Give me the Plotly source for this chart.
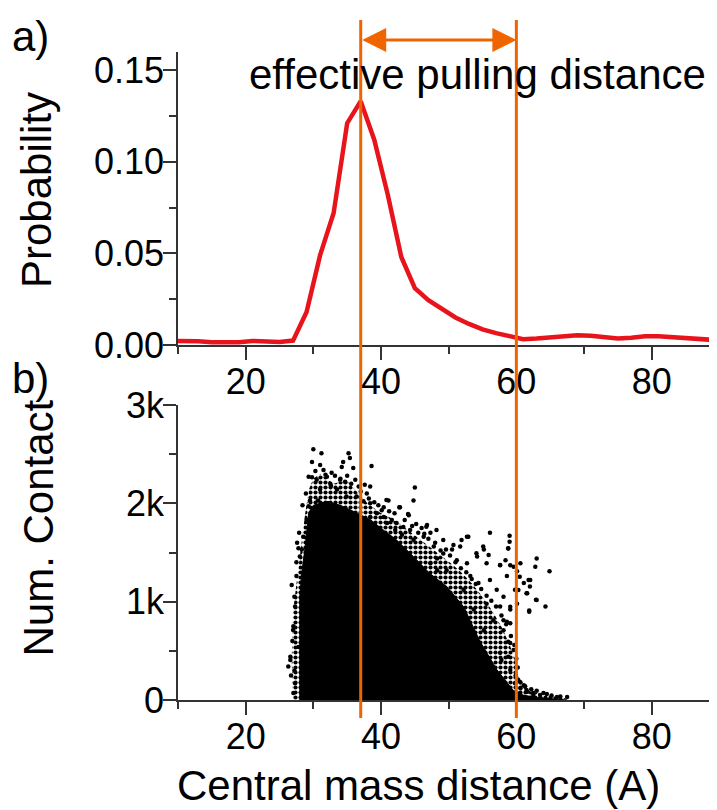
import plotly.graph_objects as go

# a) probability distribution of the central mass distance
dist = [9, 11, 13, 15, 17, 19, 21, 23, 25, 27, 29, 31, 33, 35, 37, 39, 41, 43, 45, 47, 49,
        51, 53, 55, 57, 59, 61, 63, 65, 67, 69, 71, 73, 75, 77, 79, 81, 83, 85, 87, 89, 91]
prob = [0.0022, 0.0022, 0.0020, 0.0015, 0.0012, 0.0015, 0.0022, 0.0022, 0.0016, 0.0024,
        0.018, 0.049, 0.072, 0.121, 0.133, 0.112, 0.082, 0.048, 0.031, 0.0245, 0.020,
        0.015, 0.0115, 0.0085, 0.0065, 0.005, 0.0032, 0.0035, 0.004, 0.005, 0.0053,
        0.005, 0.0045, 0.0035, 0.004, 0.0048, 0.0048, 0.0042, 0.0035, 0.003, 0.0028, 0.0028]

# b) number of contacts
# outline of the loosely populated part of the cloud
halo_x = [27.0, 26.8, 27.0, 27.6, 28.2, 28.8, 29.4, 30.0, 31.0, 32.0, 33.0, 34.0, 35.0,
          36.0, 37.0, 38.0, 39.0, 40.0, 41.5, 43.0, 44.5, 46.0, 47.5, 49.0, 50.5, 52.0,
          53.5, 55.0, 56.5, 58.0, 59.5, 60.3, 61.0, 62.0, 63.5, 65.0, 67.0, 68.0]
halo_y = [0, 400, 900, 1250, 1600, 1900, 2150, 2250, 2300, 2250, 2200, 2220, 2230,
          2150, 2080, 2000, 1950, 1900, 1850, 1780, 1700, 1620, 1540, 1460, 1380, 1290,
          1180, 1050, 900, 720, 480, 250, 130, 90, 60, 40, 20, 0]

# outline of the solid core of the cloud
core_x = [28.0, 28.0, 28.3, 28.8, 29.3, 30.0, 32.0, 34.0, 36.5, 38.5, 40.5, 42.3, 44.8,
          47.2, 49.7, 52.2, 54.6, 57.1, 59.5, 61.0, 63.0, 66.0, 67.5]
core_y = [0, 1050, 1300, 1560, 1900, 1980, 2020, 1980, 1900, 1830, 1720, 1627, 1458,
          1288, 1153, 950, 600, 310, 100, 50, 25, 8, 0]

# individual points around the cloud
dots_x = [30.0, 31.2, 29.8, 35.2, 35.4, 34.4, 34.2, 35.9, 38.6, 34.7, 36.7, 37.9, 38.4,
          31.5, 32.0, 30.5, 32.5, 31.0, 33.5, 34.9, 36.4, 29.5, 30.7, 32.2, 37.4, 38.4,
          32.7, 33.95, 29.8, 29.3,
          41.1, 42.8, 44.1, 45.0, 44.8, 46.8, 39.4, 40.4, 41.6, 42.3, 43.3, 44.3, 45.5,
          46.3, 40.1, 38.4, 40.9, 42.1, 43.1, 44.8, 47.3, 46.0,
          52.9, 56.1, 59.0, 51.7, 50.5, 49.2, 48.3, 47.8, 51.2, 52.7, 54.2, 55.2, 55.6,
          57.6, 58.4, 59.1, 53.2, 54.4, 56.1, 57.1, 58.1, 58.6, 57.6, 59.1, 55.6, 56.6,
          58.1, 59.1, 57.6, 58.8, 55.2, 53.7, 52.2, 49.7, 48.3, 47.3, 58.1, 59.1,
          63.0, 64.9, 62.05, 64.3, 61.9, 62.9, 60.1, 61.1, 59.8, 61.6, 60.6, 60.1,
          59.0, 58.8, 55.1,
          26.8, 26.3, 26.6, 27.05, 27.3, 27.5, 28.0, 28.3, 28.5, 27.8, 27.3, 27.05, 29.0,
          59.8, 60.6, 61.6, 62.5, 63.5, 64.5, 66.0, 67.5, 61.1, 60.3,
          40.8, 42.7, 44.0, 46.7, 48.2, 49.2, 52.7, 51.9, 50.7, 54.1, 55.9, 58.8, 57.6,
          59.6, 60.5, 61.8, 62.8, 62.0, 60.3, 61.5, 63.0, 61.9, 59.1, 58.6, 58.8, 59.6,
          57.8, 59.1, 27.8, 27.0, 26.6, 60.5, 61.5, 62.5,
          30.3, 31.0, 31.8, 32.6, 33.2, 34.0, 35.0, 35.6, 36.2, 37.0, 37.6, 38.2, 39.0,
          39.6, 40.4, 41.2, 42.0, 43.5, 44.6, 45.2, 46.4, 47.0, 48.0, 48.8, 49.6, 50.2,
          51.0, 51.8, 52.6, 53.4, 54.0, 54.8, 55.6, 56.3, 57.0, 57.8, 58.5, 59.2, 59.7,
          60.0, 60.2, 59.9, 60.6, 61.3, 62.2, 63.0, 64.0, 65.2, 66.5,
          27.2, 27.5, 27.9, 28.4, 28.9, 29.3, 26.9, 26.7, 27.2, 27.6]
dots_y = [2550, 2510, 2420, 2510, 2460, 2420, 2370, 2360, 2380, 2220, 2170, 2100, 2170,
          2340, 2270, 2240, 2200, 2140, 2140, 2070, 2070, 2030, 2030, 2000, 2020, 2000,
          2310, 2240, 2265, 1970,
          2030, 1960, 1880, 2160, 2030, 1780, 1900, 1860, 1830, 1800, 1760, 1730, 1700,
          1660, 1930, 1860, 1800, 1730, 1680, 1630, 1700, 1750,
          1660, 1700, 1670, 1560, 1530, 1490, 1440, 1560, 1420, 1390, 1460, 1530, 1390,
          1370, 1420, 1370, 1260, 1190, 1220, 1120, 1050, 1260, 950, 920, 980, 810,
          710, 580, 480, 440, 710, 920, 1120, 1320, 1320, 1390, 810, 780,
          1440, 1310, 1220, 950, 910, 1020, 1310, 1190, 1120, 1085, 1390, 980,
          1610, 1540, 1560,
          1170, 340, 440, 750, 950, 1260, 1460, 1530, 1660, 540, 170, 70, 1830,
          170, 120, 85, 70, 50, 60, 30, 30, 150, 200,
          2034, 1960, 1892, 1763, 1729, 1627, 1661, 1627, 1577, 1492, 1475, 1543, 1373,
          1356, 1254, 1221, 1356, 1153, 1119, 1085, 1017, 898, 949, 797, 593, 508,
          407, 305, 1543, 712, 407, 68, 102, 51,
          2330, 2390, 2290, 2180, 2280, 2250, 2280, 2200, 2240, 2120, 2190, 2050, 2010,
          1980, 1960, 1920, 1900, 1830, 1770, 1790, 1690, 1640, 1600, 1520, 1530, 1470,
          1400, 1340, 1300, 1230, 1180, 1130, 1060, 1010, 950, 860, 770, 650, 560,
          420, 330, 250, 180, 140, 110, 95, 70, 45, 35,
          1050, 1400, 1700, 1980, 2100, 2270, 600, 250, 300, 1600]

pull_start = 37
pull_end = 60

x_range = [10, 89.65]
font = 'Liberation Sans, Arial, sans-serif'
orange = '#F06400'
axis_col = '#333333'

# page body adds an 8px offset; place everything in window pixels
OFF = 8
W, H = 717 - OFF, 810 - OFF


def fx(sx):
    return (sx - OFF) / W


def fy(sy):
    return 1 - (sy - OFF) / H


fig = go.Figure()
fig.add_trace(go.Scatter(x=dist, y=prob, mode='lines',
                         line=dict(color='#E8141C', width=4.5),
                         xaxis='x', yaxis='y', showlegend=False))
fig.add_trace(go.Scatter(x=halo_x, y=halo_y, mode='lines', fill='toself',
                         fillpattern=dict(shape='.', size=5, solidity=0.55,
                                          fgcolor='black', bgcolor='white'),
                         line=dict(width=0), xaxis='x2', yaxis='y2', showlegend=False))
fig.add_trace(go.Scatter(x=core_x, y=core_y, mode='lines', fill='toself',
                         fillcolor='black', line=dict(color='black', width=1),
                         xaxis='x2', yaxis='y2', showlegend=False))
fig.add_trace(go.Scatter(x=dots_x, y=dots_y, mode='markers',
                         marker=dict(color='black', size=4.5),
                         xaxis='x2', yaxis='y2', showlegend=False))

xcommon = dict(range=x_range, domain=[fx(178), 1], showgrid=False, zeroline=False,
               automargin=False,
               showline=True, linecolor=axis_col, linewidth=1.5,
               ticks='outside', ticklen=13, tickwidth=1.5, tickcolor=axis_col,
               tickmode='linear', tick0=0, dtick=20, ticklabelstandoff=-9,
               minor=dict(ticks='outside', ticklen=7, tickwidth=1.5, tickcolor=axis_col,
                          dtick=10, tick0=10),
               tickfont=dict(family=font, size=36, color='black'))

ycommon = dict(showgrid=False, zeroline=False, showline=True, linecolor=axis_col,
               automargin=False, linewidth=1.5, ticks='outside', ticklen=13,
               tickwidth=1.5, tickcolor=axis_col, ticklabelstandoff=-8,
               tickfont=dict(family=font, size=36, color='black'))

fig.update_layout(
    template='none',
    width=W, height=H,
    margin=dict(l=0, r=0, t=0, b=0, pad=0),
    font=dict(family=font, color='black'),
    paper_bgcolor='white', plot_bgcolor='white',
    showlegend=False,
    xaxis=dict(xcommon, anchor='y'),
    yaxis=dict(ycommon, anchor='x', domain=[fy(345), fy(51.7)],
               range=[0, 0.16], tickmode='linear', tick0=0, dtick=0.05,
               tickformat='.2f',
               minor=dict(ticks='outside', ticklen=7, tickwidth=1.5,
                          tickcolor=axis_col, dtick=0.025, tick0=0)),
    xaxis2=dict(xcommon, anchor='y2'),
    yaxis2=dict(ycommon, anchor='x2', domain=[fy(700), fy(405)],
                range=[0, 3000], tickvals=[0, 1000, 2000, 3000],
                ticktext=['0', '1k', '2k', '3k'],
                minor=dict(ticks='outside', ticklen=7, tickwidth=1.5,
                           tickcolor=axis_col, dtick=500, tick0=0)),
)

# vertical markers of the effective pulling window
for xv in [pull_start, pull_end]:
    fig.add_shape(type='line', xref='x', yref='paper', x0=xv, x1=xv,
                  y0=fy(718), y1=fy(20), line=dict(color=orange, width=3))

fig.add_annotation(x=pull_end, y=fy(40), ax=pull_start, ay=0,
                   xref='x', yref='paper', axref='x', ayref='pixel',
                   text='', showarrow=True, arrowside='end+start',
                   arrowhead=2, startarrowhead=2, arrowsize=1.6, startarrowsize=1.6,
                   arrowwidth=3, arrowcolor=orange, standoff=0, startstandoff=0)

texts = [
    dict(text='effective pulling distance', x=fx(477.5), y=fy(75), angle=0),
    dict(text='Probability', x=fx(37), y=fy(190), angle=-90),
    dict(text='Num. Contact', x=fx(37.5), y=fy(528), angle=-90),
    dict(text='Central mass distance (A)', x=fx(418.5), y=fy(785), angle=0),
    dict(text='a)', x=fx(30), y=fy(36), angle=0),
    dict(text='b)', x=fx(30), y=fy(378), angle=0),
]
for t in texts:
    fig.add_annotation(text=t['text'], x=t['x'], y=t['y'], xref='paper', yref='paper',
                       xanchor='center', yanchor='middle', showarrow=False,
                       textangle=t['angle'],
                       font=dict(family=font, size=42, color='black'))

fig.write_html("out.html")
